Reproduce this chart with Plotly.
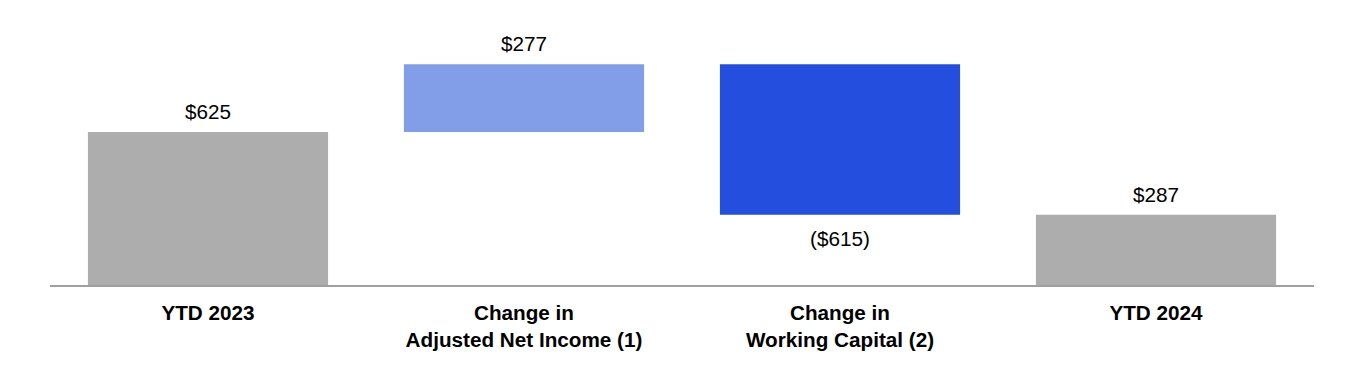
import plotly.graph_objects as go

categories = ["YTD 2023", "Change in<br>Adjusted Net Income (1)", "Change in<br>Working Capital (2)", "YTD 2024"]
measures = ["absolute", "relative", "relative", "total"]
values = [625, 277, -615, 287]
labels = ["$625", "$277", "($615)", "$287"]
colors = ["#ADADAD", "#839EE8", "#234EDE", "#ADADAD"]

FONT = "Liberation Sans, Arial"
FS = 20.7

# compute bases / heights from data
bases, heights = [], []
running = 0
for m, v in zip(measures, values):
    if m == "absolute":
        bases.append(0); heights.append(v); running = v
    elif m == "relative":
        bases.append(running); heights.append(v); running += v
    else:
        bases.append(0); heights.append(running)

fig = go.Figure()
fig.add_trace(go.Bar(
    x=categories, y=heights, base=bases,
    marker=dict(color=colors, line=dict(width=0)),
    hoverinfo="skip",
))

for c, b, h, lab in zip(categories, bases, heights, labels):
    if h >= 0:
        fig.add_annotation(x=c, y=b + h, text=lab, showarrow=False,
                           yanchor="bottom", yshift=7,
                           font=dict(family=FONT, size=FS, color="#000000"))
    else:
        fig.add_annotation(x=c, y=b + h, text=lab, showarrow=False,
                           yanchor="top", yshift=-10,
                           font=dict(family=FONT, size=FS, color="#000000"))

fig.update_layout(
    width=1364, height=370,
    margin=dict(l=42, r=58, t=12, b=93),
    paper_bgcolor="white", plot_bgcolor="white",
    bargap=0.24,
    showlegend=False,
    font=dict(family=FONT, size=FS, color="#000000"),
)
fig.update_xaxes(
    showline=True, linecolor="#A0A0A0", linewidth=2,
    showgrid=False, zeroline=False,
    tickfont=dict(family=FONT, size=FS, color="#000000", weight="bold"),
    ticks="", ticklabelstandoff=8,
)
fig.update_yaxes(
    range=[0, 1082.5], visible=False, showgrid=False, zeroline=False,
)

fig.write_html("out.html")
